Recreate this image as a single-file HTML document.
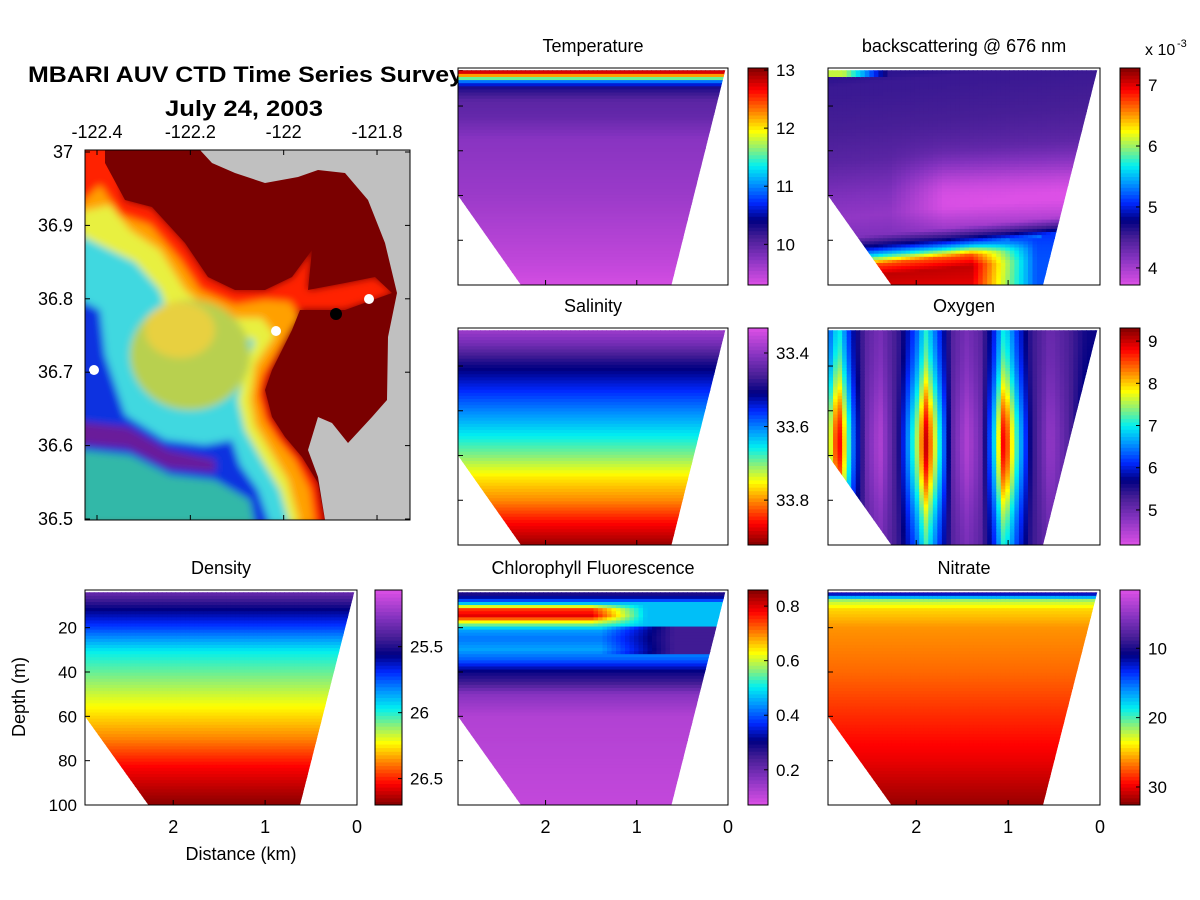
<!DOCTYPE html>
<html><head><meta charset="utf-8"><style>
html,body{margin:0;padding:0;background:#fff}
svg{display:block}
text{font-family:"Liberation Sans",sans-serif;fill:#000}
</style></head><body>
<svg id="fig" width="1200" height="900" xmlns="http://www.w3.org/2000/svg">
<defs>
<clipPath id="mapclip"><rect x="85" y="150" width="325" height="370"/></clipPath>
<clipPath id="terrclip"><polygon points="85,150 105,150 105,163 125,200 152,207 185,243 208,277 235,290 265,290 292,277 312,250 308,290 345,283 375,277 392,293 345,310 300,310 292,330 272,370 265,390 272,417 285,437 302,457 318,483 325,520 85,520"/></clipPath>
<filter id="blur" x="-10%" y="-10%" width="120%" height="120%"><feGaussianBlur stdDeviation="4"/></filter>
</defs>
<g clip-path="url(#mapclip)">
<rect x="85" y="150" width="325" height="370" fill="#c0c0c0"/>
<polygon fill="#7a0000" points="85,150 200,150 212,163 235,173 265,183 298,177 318,170 345,173 368,200 385,243 397,293 388,337 387,400 372,417 348,443 332,423 318,417 308,450 318,477 325,520 85,520"/>
<g clip-path="url(#terrclip)">
<g filter="url(#blur)">
<polygon fill="#ff2000" points="80,145 110,145 125,200 152,207 185,243 208,277 235,290 265,290 292,277 312,250 308,290 345,283 375,277 395,293 345,310 300,310 292,330 272,370 265,390 272,417 285,437 302,457 318,483 325,525 80,525"/>
<polygon fill="#ffa000" points="80,205 100,185 120,215 150,225 180,260 200,290 235,305 265,300 290,302 300,318 285,340 262,375 258,395 265,420 278,440 295,460 310,490 315,525 80,525"/>
<polygon fill="#e8f040" points="80,212 110,205 130,230 160,250 185,290 215,315 240,318 262,318 275,335 255,365 250,400 255,425 270,450 288,480 300,525 80,525"/>
<polygon fill="#40d8e0" points="80,235 110,250 135,262 160,290 170,320 200,330 235,335 255,340 245,370 238,400 245,430 262,460 280,490 290,525 80,525"/>
<polygon fill="#1030e0" points="80,300 100,310 105,355 125,415 165,440 205,445 232,440 240,465 258,490 270,525 80,525"/>
<ellipse cx="190" cy="355" rx="60" ry="55" fill="#b8d050"/>
<ellipse cx="180" cy="330" rx="35" ry="28" fill="#e8d040"/>
<polygon fill="#30b8a8" points="80,450 130,455 170,475 215,480 250,500 255,525 80,525"/>
<polygon fill="#6a1a9a" points="80,422 128,427 168,450 215,460 215,472 168,468 128,448 80,444"/>
</g>
</g>
<circle cx="94" cy="370" r="5" fill="#fff"/>
<circle cx="276" cy="331" r="5" fill="#fff"/>
<circle cx="336" cy="314" r="6" fill="#000"/>
<circle cx="369" cy="299" r="5" fill="#fff"/>
</g>
<rect x="85" y="150" width="325" height="370" fill="none" stroke="#000"/>
<text x="28" y="82" font-size="22" font-weight="bold" textLength="435" lengthAdjust="spacingAndGlyphs">MBARI AUV CTD Time Series Survey</text>
<text x="165" y="116" font-size="22" font-weight="bold" textLength="158" lengthAdjust="spacingAndGlyphs">July 24, 2003</text>
<g id="plots"></g>
</svg>
<script>
// ---- data ----
const mapLon=[-122.4,-122.2,-122,-121.8];
const mapLat=[37,36.9,36.8,36.7,36.6,36.5];
const distTicks=[2,1,0];
const depthTicks=[20,40,60,80,100];
const tempDepths=[3,5,7,9,12,18,25,35,60,90,100];
const tempValues=[13,12.8,12,11,10.3,10.0,9.95,9.75,9.65,9.45,9.35];
const bsDepths=[3,6,10,25,40,55,65,74,79,83,87,92,100];
const bsValues=[4.6,4.55,4.55,4.5,4.4,4.2,4.1,4.2,4.8,5.6,6.7,7.1,7.0];
const salDepths=[3,10,20,30,40,50,60,70,80,90,100];
const salValues=[33.38,33.42,33.5,33.55,33.6,33.65,33.7,33.76,33.8,33.86,33.91];
const oxDist=[2.95,2.85,2.7,2.55,2.4,2.2,2.0,1.9,1.75,1.6,1.45,1.3,1.15,1.05,0.9,0.75,0.55,0.35,0.15];
const oxValues=[7.5,9.0,6.5,5.0,4.5,5.5,7.5,9.0,7.0,5.0,4.5,5.0,7.0,9.0,7.0,5.5,4.7,5.2,6.0];
const denDepths=[3,12,20,31,44,56,70,83,98,100];
const denValues=[25.31,25.56,25.72,25.97,26.10,26.23,26.37,26.54,26.67,26.68];
const chlDepths=[3,6,9,12,15,18,21,25,30,35,40,45,50,60,100];
const chlValues=[0.25,0.3,0.45,0.75,0.8,0.6,0.45,0.42,0.45,0.4,0.3,0.25,0.17,0.12,0.1];
const nitDepths=[3,5,8,12,20,40,60,80,100];
const nitValues=[5,12,22,24.5,26,27,28.5,30,32];

const stops=[[0,[220,80,230]],[0.13,[130,50,190]],[0.22,[70,30,150]],[0.3,[0,0,130]],[0.38,[0,40,255]],[0.47,[0,150,255]],[0.55,[0,240,240]],[0.63,[140,240,120]],[0.71,[255,255,0]],[0.8,[255,130,0]],[0.9,[255,0,0]],[1,[128,0,0]]];
function cmap(t){t=Math.max(0,Math.min(1,t));for(let i=1;i<stops.length;i++){if(t<=stops[i][0]){const a=stops[i-1],b=stops[i],f=(t-a[0])/(b[0]-a[0]);const c=a[1].map((v,k)=>Math.round(v+(b[1][k]-v)*f));return `rgb(${c})`;}}return 'rgb(128,0,0)';}
function interp(xs,ys,x){if(x<=xs[0])return ys[0];for(let i=1;i<xs.length;i++)if(x<=xs[i]){const f=(x-xs[i-1])/(xs[i]-xs[i-1]);return ys[i-1]+f*(ys[i]-ys[i-1]);}return ys[ys.length-1];}
const NS='http://www.w3.org/2000/svg';
const root=document.getElementById('plots');
function el(tag,attrs,parent){const e=document.createElementNS(NS,tag);for(const k in attrs)e.setAttribute(k,attrs[k]);(parent||root).appendChild(e);return e;}
function txt(x,y,s,size,anchor,parent){const t=el('text',{x:x,y:y,'font-size':size,'text-anchor':anchor||'middle'},parent);t.textContent=s;return t;}
function smooth(a,b,x){return Math.max(0,Math.min(1,(x-a)/(b-a)));}

const panels=[
 {id:'temperature',title:'Temperature',x:458,y:68,w:270,h:217,cbx:748,min:9.3,max:13.035,rev:false,ticks:[10,11,12,13],f:(d,z)=>interp(tempDepths,tempValues,z)},
 {id:'backscattering',title:'backscattering @ 676 nm',x:828,y:68,w:272,h:217,cbx:1120,min:3.72,max:7.28,rev:false,ticks:[4,5,6,7],f:(d,z)=>{const zz=z-4*(d-1.5);let v=interp(bsDepths,bsValues,zz);if(zz>82)v=5.2+(v-5.2)*smooth(0.7,1.4,d);v-=0.4*Math.exp(-Math.pow((z-60)/15,2))*smooth(2.3,1.7,d);if(z<7)v+=1.5*smooth(2.3,2.8,d);return v;}},
 {id:'salinity',title:'Salinity',x:458,y:328,w:270,h:217,cbx:748,min:33.332,max:33.922,rev:true,ticks:[33.4,33.6,33.8],f:(d,z)=>interp(salDepths,salValues,z)},
 {id:'oxygen',title:'Oxygen',x:828,y:328,w:272,h:217,cbx:1120,min:4.17,max:9.31,rev:false,ticks:[5,6,7,8,9],f:(d,z)=>{const v=interp(oxDist.slice().reverse(),oxValues.slice().reverse(),d);const g=Math.exp(-Math.pow((z-55)/30,2));return 5.3+(v-5.3)*(0.45+0.55*g);}},
 {id:'density',title:'Density',x:85,y:590,w:272,h:215,cbx:375,cbw:27,min:25.07,max:26.70,rev:true,ticks:[25.5,26,26.5],f:(d,z)=>interp(denDepths,denValues,z)},
 {id:'chlorophyll',title:'Chlorophyll Fluorescence',x:458,y:590,w:270,h:215,cbx:748,min:0.071,max:0.859,rev:false,ticks:[0.2,0.4,0.6,0.8],f:(d,z)=>{let v=interp(chlDepths,chlValues,z);if(z>9&&z<19)v=0.47+(v-0.47)*smooth(0.9,1.5,d);else if(z>=19&&z<32)v=0.25+(v-0.25)*smooth(0.6,1.4,d);return v;}},
 {id:'nitrate',title:'Nitrate',x:828,y:590,w:272,h:215,cbx:1120,min:1.6,max:32.6,rev:true,ticks:[10,20,30],f:(d,z)=>interp(nitDepths,nitValues,z)}
];
const DMAX=2.96, ZMIN=3, ZMAX=100;
panels.forEach((p,pi)=>{
 const g=el('g',{});
 
 
 const sx=d=>p.x+p.w*(DMAX-d)/DMAX;
 const sy=z=>p.y+p.h*(z-ZMIN)/(ZMAX-ZMIN);
 const cid='clip'+pi;
 const cp=el('clipPath',{id:cid},g);
 const poly=[[2.96,4],[0.03,4],[0.62,100],[2.27,100],[2.96,60]];
 el('polygon',{points:poly.map(q=>sx(q[0])+','+sy(q[1])).join(' ')},cp);
 const cells=el('g',{'clip-path':`url(#${cid})`},g);
 
 
 const nd=60,nz=70;
 for(let i=0;i<nd;i++){for(let j=0;j<nz;j++){
   const d0=DMAX*i/nd,d1=DMAX*(i+1)/nd,z0=ZMIN+(ZMAX-ZMIN)*j/nz,z1=ZMIN+(ZMAX-ZMIN)*(j+1)/nz;
   const v=p.f((d0+d1)/2,(z0+z1)/2);
   const t=(v-p.min)/(p.max-p.min);
   el('rect',{x:sx(d1)-0.3,y:sy(z0)-0.3,width:sx(d0)-sx(d1)+0.8,height:sy(z1)-sy(z0)+0.8,fill:cmap(t)},cells);
 }}
 const fr=el('rect',{x:p.x,y:p.y,width:p.w,height:p.h,fill:'none',stroke:'#000'},g);
 
 
 const tt=txt(p.x+p.w/2,p.y-16,p.title,18,'middle',g);
 
 
 [20,40,60,80].forEach(z=>el('line',{x1:p.x,x2:p.x+5,y1:sy(z),y2:sy(z),stroke:'#000'},g));
 distTicks.forEach(d=>el('line',{x1:sx(d),x2:sx(d),y1:p.y+p.h,y2:p.y+p.h-5,stroke:'#000'},g));
 if(p.id==='density'){depthTicks.forEach(z=>{const l=txt(p.x-8,sy(z)+6,String(z),17,'end',g);});
   const yt=txt(0,0,'Depth (m)',18,'middle',g);yt.setAttribute('transform','translate(25,697) rotate(-90)');
   const xt=txt(p.x+p.w/2+20,860,'Distance (km)',18,'middle',g);}
 if(p.y>500){distTicks.forEach(d=>{const l=txt(sx(d),833,String(d),18,'middle',g);});}
 const cbw=p.cbw||20;
 const cb=el('g',{},g);
 
 
 const n=60;
 for(let k=0;k<n;k++){const t=(k+0.5)/n;
   el('rect',{x:p.cbx,y:p.y+p.h*(1-(k+1)/n)-0.3,width:cbw,height:p.h/n+0.8,fill:cmap(p.rev?1-t:t)},cb);}
 el('rect',{x:p.cbx,y:p.y,width:cbw,height:p.h,fill:'none',stroke:'#000'},cb);
 p.ticks.forEach(v=>{const t=(v-p.min)/(p.max-p.min);const yy=p.rev?p.y+p.h*t:p.y+p.h*(1-t);
   el('line',{x1:p.cbx+cbw-4,x2:p.cbx+cbw,y1:yy,y2:yy,stroke:'#000'},cb);
   const l=txt(p.cbx+cbw+8,yy+6,String(v),17,'start',cb);});
});
const ex=txt(1145,55,'x 10',16,'start');


const ex2=txt(1177,47,'-3',11,'start');


const lx=v=>97+(v+122.4)*466.7, ly=v=>152+(37-v)*734;
mapLon.forEach(v=>{const t=txt(lx(v),138,String(v),18,'middle');
 el('line',{x1:lx(v),x2:lx(v),y1:150,y2:155,stroke:'#000'});el('line',{x1:lx(v),x2:lx(v),y1:520,y2:515,stroke:'#000'});});
mapLat.forEach(v=>{const t=txt(73,ly(v)+6,String(v),18,'end');
 el('line',{x1:85,x2:90,y1:ly(v),y2:ly(v),stroke:'#000'});el('line',{x1:410,x2:405,y1:ly(v),y2:ly(v),stroke:'#000'});});
</script>
</body></html>
